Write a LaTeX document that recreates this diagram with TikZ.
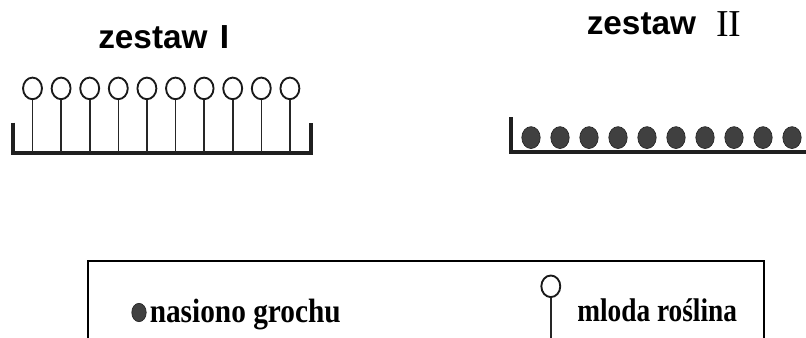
\documentclass[tikz,border=0pt]{standalone}
\usepackage{fontspec}
\setmainfont{Liberation Serif}
\newfontfamily\titlefont{Liberation Sans}
\usetikzlibrary{shapes.geometric}
\begin{document}
\begin{tikzpicture}[x=0.75pt,y=-0.75pt,
  plant/.style={ellipse, draw=black!90, line width=1.4pt, inner sep=0pt, minimum width=14.2pt, minimum height=16.2pt},
  seed/.style={ellipse, fill=black!75, draw=black!85, line width=0.5pt, inner sep=0pt, minimum width=13.8pt, minimum height=16.4pt},
  stem/.style={line width=1.2pt, draw=black!85},
  tray/.style={line width=3pt, draw=black!88, line join=miter},
  frame/.style={line width=2pt, draw=black},
  titletext/.style={anchor=base west, inner sep=0pt, text=black, font=\titlefont\bfseries\fontsize{25}{30}\selectfont},
  legendtext/.style={anchor=base west, inner sep=0pt, font=\bfseries\fontsize{22}{26}\selectfont}]
\useasboundingbox (0,0) rectangle (806,338);
\clip (0,0) rectangle (806,338);

% ---------- zestaw I ----------
\node[titletext] (t1) at (98,48.3) {zestaw};
\node[titletext] (t1n) at (219.5,48.3) {I};
\coordinate (a1) at (12.8,122.7);
\coordinate (a2) at (12.8,153);
\coordinate (a3) at (310.5,153);
\coordinate (a4) at (310.5,122.7);
\draw[tray] (a1) -- (a2) -- (a3) -- (a4);
\foreach \i in {1,...,10}{
  \pgfmathsetmacro\xx{32.5+28.6*(\i-1)}
  \node[plant] (p\i) at (\xx,88.4) {};
  \coordinate (s\i) at (\xx,152);
  \draw[stem] (p\i.south) -- (s\i);
}

% ---------- zestaw II ----------
\node[titletext] (t2) at (586.5,35) {zestaw};
\node[anchor=base west, inner sep=0pt, text=black, font=\fontsize{28.5}{34}\selectfont] (t2n) at (716,36.5) {II};
\coordinate (b1) at (510.5,117.3);
\coordinate (b2) at (510.5,152.2);
\coordinate (b3) at (830,152.2);
\draw[tray] (b1) -- (b2) -- (b3);
\foreach \i in {1,...,10}{
  \pgfmathsetmacro\xx{531+29*(\i-1)}
  \node[seed] (n\i) at (\xx,137.6) {};
}

% ---------- legend ----------
\coordinate (f1) at (88,360);
\coordinate (f2) at (88,261);
\coordinate (f3) at (764,261);
\coordinate (f4) at (764,360);
\draw[frame] (f1) -- (f2) -- (f3) -- (f4);
\node[seed, minimum width=10.8pt, minimum height=13.8pt] (ls) at (139,312.5) {};
\node[legendtext] (l1) at (149.5,322) {\scalebox{1}[1.15]{nasiono grochu}};
\node[plant] (lp) at (550.8,286.3) {};
\coordinate (lpb) at (550.8,345);
\draw[stem] (lp.south) -- (lpb);
\node[legendtext, font=\bfseries\fontsize{20.5}{24}\selectfont] (l2) at (577,321.7) {\scalebox{1}[1.2]{mloda roślina}};
\end{tikzpicture}
\end{document}
